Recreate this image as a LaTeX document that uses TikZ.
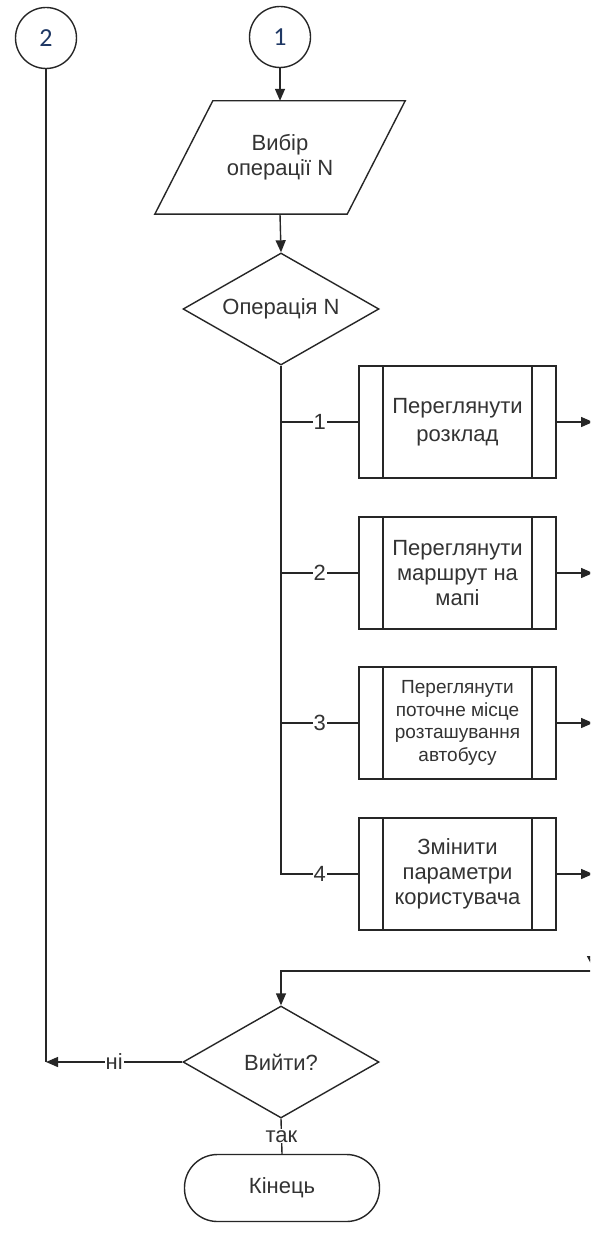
\documentclass[tikz,border=0pt]{standalone}
\usepackage{fontspec}
\setmainfont{Liberation Sans}
\newfontfamily\digitfont{Carlito}
\usetikzlibrary{shapes.geometric,arrows.meta,calc}
\definecolor{ink}{HTML}{262626}
\definecolor{txt}{HTML}{333333}
\definecolor{navy}{HTML}{1F3864}
\begin{document}
\begin{tikzpicture}[x=1pt,y=-1pt,
  every node/.style={text=txt, font=\fontsize{22}{25}\selectfont},
  line/.style={draw=ink, line width=1.4pt},
  flow/.style={line, -{Triangle[length=12pt,width=10pt]}},
  connector/.style={circle, draw=ink, line width=1.4pt, minimum size=61pt,
    inner sep=0pt, text=navy, font=\digitfont\fontsize{26}{26}\selectfont},
  io/.style={minimum width=192pt, minimum height=113pt, align=center, inner sep=0pt},
  decision/.style={diamond, draw=ink, line width=1.4pt, aspect=1.75,
    minimum width=196pt, minimum height=112pt, inner sep=0pt},
  subproc/.style={rectangle, draw=ink, line width=1.4pt, minimum width=197pt,
    minimum height=112pt, align=center, inner sep=0pt,
    path picture={\draw[ink, line width=1.4pt]
      ([xshift=24pt]path picture bounding box.north west) --
      ([xshift=24pt]path picture bounding box.south west)
      ([xshift=-24pt]path picture bounding box.north east) --
      ([xshift=-24pt]path picture bounding box.south east);}},
  terminal/.style={rectangle, rounded corners=33pt, draw=ink, line width=1.4pt,
    minimum width=195pt, minimum height=67pt, inner sep=0pt},
  lbl/.style={fill=white, inner sep=1pt}
]
\useasboundingbox (0,0) rectangle (590,1233);
\fill[white] (0,0) rectangle (590,1233);
\clip (0,0) rectangle (590,1233);

% off-page connectors
\node[connector] (c1) at (280,37) {1};
\node[connector] (c2) at (46,38) {2};

% input of the operation number
\node[io] (inp) at (280,157.5) {Вибір\\операції N};
\draw[line] ($(inp.north west)+(29,0)$) -- ($(inp.north east)+(29,0)$)
  -- ($(inp.south east)+(-29,0)$) -- ($(inp.south west)+(-29,0)$) -- cycle;

% menu selection
\node[decision] (op) at (281,309) {Операція N};

% sub-processes
\node[subproc, font=\fontsize{22}{28}\selectfont] (b1) at (457.5,422) {Переглянути\\розклад};
\node[subproc] (b2) at (457.5,573) {Переглянути\\маршрут на\\мапі};
\node[subproc, font=\fontsize{19}{22.5}\selectfont] (b3) at (457.5,723)
  {Переглянути\\поточне місце\\розташування\\автобусу};
\node[subproc] (b4) at (457.5,874) {Змінити\\параметри\\користувача};

% exit question and end
\node[decision] (ex) at (281,1062) {Вийти?};
\node[terminal] (end) at (282,1188) {Кінець};

% main flow
\draw[flow] (c1.south) -- (inp.north);
\draw[flow] (inp.south) -- (op.north);

% branches of the selection
\coordinate (j1) at (op.south |- b1.west);
\coordinate (j2) at (op.south |- b2.west);
\coordinate (j3) at (op.south |- b3.west);
\coordinate (j4) at (op.south |- b4.west);
\draw[line] (op.south) -- (j4) -- node[lbl]{4} (b4.west);
\draw[line] (j1) -- node[lbl]{1} (b1.west);
\draw[line] (j2) -- node[lbl]{2} (b2.west);
\draw[line] (j3) -- node[lbl]{3} (b3.west);

% collecting bus on the right
\coordinate (bus) at (593,380);
\coordinate (busEnd) at (593,968);
\coordinate (merge) at (593,971);
\coordinate (k1) at (bus |- b1.east);
\coordinate (k2) at (bus |- b2.east);
\coordinate (k3) at (bus |- b3.east);
\coordinate (k4) at (bus |- b4.east);
\draw[flow] (b1.east) -- (k1);
\draw[flow] (b2.east) -- (k2);
\draw[flow] (b3.east) -- (k3);
\draw[flow] (b4.east) -- (k4);
\draw[line, -{Triangle[length=12pt,width=12pt]}] (bus) -- (busEnd);
\draw[flow] (merge) -| (ex.north);

% exit decision outcomes
\coordinate (back) at (c2.south |- ex.west);
\draw[line] (c2.south) -- (back);
\draw[flow] (ex.west) -- node[lbl]{ні} (back);
\draw[line] (ex.south) -- node[lbl]{так} (end.north);
\end{tikzpicture}
\end{document}
